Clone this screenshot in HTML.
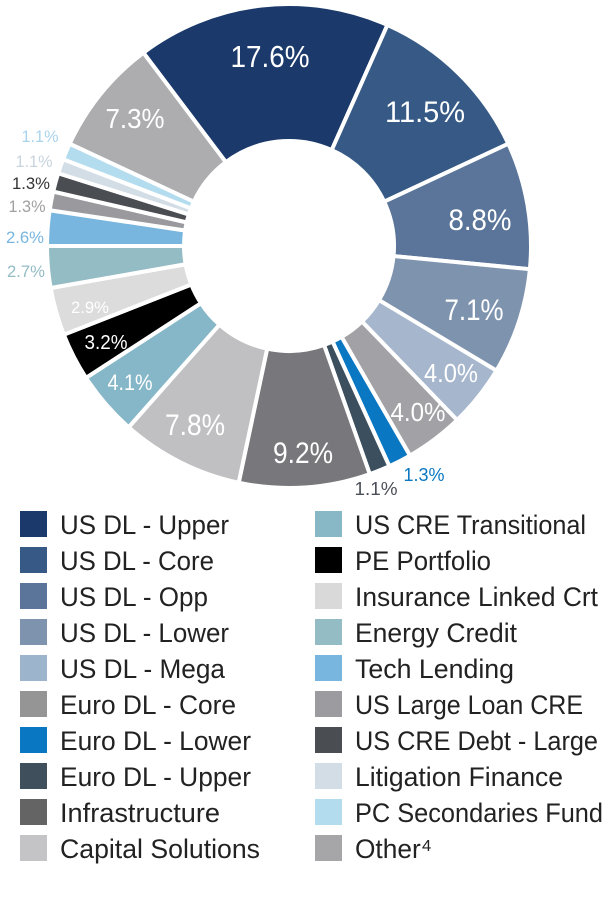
<!DOCTYPE html>
<html><head><meta charset="utf-8"><style>
html,body{margin:0;padding:0;background:#fff;width:610px;height:900px;overflow:hidden}
svg{display:block}
text{font-family:"Liberation Sans Narrow","Liberation Sans",sans-serif}
</style></head><body>
<svg id="s" width="610" height="900" viewBox="0 0 610 900" xmlns="http://www.w3.org/2000/svg">
<g id="pie"></g>
<g font-size="30" fill="#fff" text-anchor="middle">
<text x="270" y="67" font-size="31" textLength="79" lengthAdjust="spacingAndGlyphs">17.6%</text>
<text x="425" y="122" textLength="80" lengthAdjust="spacingAndGlyphs">11.5%</text>
<text x="480" y="230" textLength="63" lengthAdjust="spacingAndGlyphs">8.8%</text>
<text x="474" y="320" textLength="59" lengthAdjust="spacingAndGlyphs">7.1%</text>
<text x="451" y="382" font-size="26" textLength="54" lengthAdjust="spacingAndGlyphs">4.0%</text>
<text x="418" y="421" font-size="26" textLength="55" lengthAdjust="spacingAndGlyphs">4.0%</text>
<text x="303" y="463" textLength="60" lengthAdjust="spacingAndGlyphs">9.2%</text>
<text x="195" y="435" textLength="60" lengthAdjust="spacingAndGlyphs">7.8%</text>
<text x="130" y="390" font-size="22" textLength="45" lengthAdjust="spacingAndGlyphs">4.1%</text>
<text x="106" y="349" font-size="20" textLength="43" lengthAdjust="spacingAndGlyphs">3.2%</text>
<text x="90" y="313" font-size="17" textLength="38" lengthAdjust="spacingAndGlyphs">2.9%</text>
<text x="135" y="128" font-size="28" textLength="59" lengthAdjust="spacingAndGlyphs">7.3%</text>
<text x="26" y="277" font-size="17" fill="#93bcc4" textLength="38" lengthAdjust="spacingAndGlyphs">2.7%</text>
<text x="25" y="243" font-size="17" fill="#79b6df" textLength="38" lengthAdjust="spacingAndGlyphs">2.6%</text>
<text x="27" y="212" font-size="17" fill="#a0a0a0" textLength="37" lengthAdjust="spacingAndGlyphs">1.3%</text>
<text x="31" y="189" font-size="17" fill="#333" textLength="38" lengthAdjust="spacingAndGlyphs">1.3%</text>
<text x="34" y="167" font-size="17" fill="#c8d4de" textLength="37" lengthAdjust="spacingAndGlyphs">1.1%</text>
<text x="40" y="142" font-size="17" fill="#a9d3ec" textLength="37" lengthAdjust="spacingAndGlyphs">1.1%</text>
<text x="424" y="481" font-size="18" fill="#0a77c2" textLength="41" lengthAdjust="spacingAndGlyphs">1.3%</text>
<text x="376" y="495" font-size="18" fill="#4a4f58" textLength="43" lengthAdjust="spacingAndGlyphs">1.1%</text>
</g>
<g id="leg" font-size="27" fill="#222"></g>
</svg>
<script>
var cx=289,cy=246,R=242,r=105;
var sl=[[-37,24,"#1b3a6b"],[24,65,"#365a85"],[65,95.5,"#5a7599"],[95.5,121,"#7e93ae"],[121,136,"#a6b6cc"],[136,150,"#a2a2a6"],[150,155.5,"#0a77c2"],[155.5,160.5,"#3c4f5e"],[160.5,192,"#77777c"],[192,221.5,"#c0c0c2"],[221.5,237,"#86b7c8"],[237,248.5,"#000"],[248.5,260,"#dcdcdc"],[260,270,"#93bcc4"],[270,278.5,"#79b6df"],[278.5,283,"#9a9a9e"],[283,287.5,"#4a4d52"],[287.5,291,"#d3dde6"],[291,295,"#b4dcef"],[295,323,"#adadb0"]];
function p(a,rad){a=a*Math.PI/180;return (cx+rad*Math.sin(a)).toFixed(2)+" "+(cy-rad*Math.cos(a)).toFixed(2);}
var h="";
sl.forEach(function(s){var lg=(s[1]-s[0])>180?1:0;
h+='<path d="M'+p(s[0],r)+' L'+p(s[0],R)+' A'+R+' '+R+' 0 '+lg+' 1 '+p(s[1],R)+' L'+p(s[1],r)+' A'+r+' '+r+' 0 '+lg+' 0 '+p(s[0],r)+'Z" fill="'+s[2]+'" stroke="#fff" stroke-width="4" stroke-linejoin="miter"/>';});
document.getElementById("pie").innerHTML=h;
var L=[["US DL - Upper","#1b3a6b",169],["US DL - Core","#365a85",154],["US DL - Opp","#5a7599",148],["US DL - Lower","#7e93ae",169],["US DL - Mega","#9cb4cc",165],["Euro DL - Core","#959595",176],["Euro DL - Lower","#0a77c2",191],["Euro DL - Upper","#3f505c",191],["Infrastructure","#646464",160],["Capital Solutions","#c4c4c6",200]];
var M=[["US CRE Transitional","#88b7c6",231],["PE Portfolio","#000",136],["Insurance Linked Crt","#d9d9d9",243],["Energy Credit","#93bcc4",162],["Tech Lending","#79b6df",159],["US Large Loan CRE","#9c9ca0",228],["US CRE Debt - Large","#4a4d52",243],["Litigation Finance","#d3dde6",208],["PC Secondaries Fund","#b4dcef",248],["Other\u2074","#a6a6a8",77]];
var g="";
function row(it,i,sx,tx){var y=511+i*36;g+='<rect x="'+sx+'" y="'+y+'" width="27" height="26" fill="'+it[1]+'"/><text x="'+tx+'" y="'+(y+23)+'" textLength="'+it[2]+'" lengthAdjust="spacingAndGlyphs">'+it[0]+'</text>';}
L.forEach(function(it,i){row(it,i,20,60);});
M.forEach(function(it,i){row(it,i,315,355);});
document.getElementById("leg").innerHTML=g;
</script>
</body></html>
